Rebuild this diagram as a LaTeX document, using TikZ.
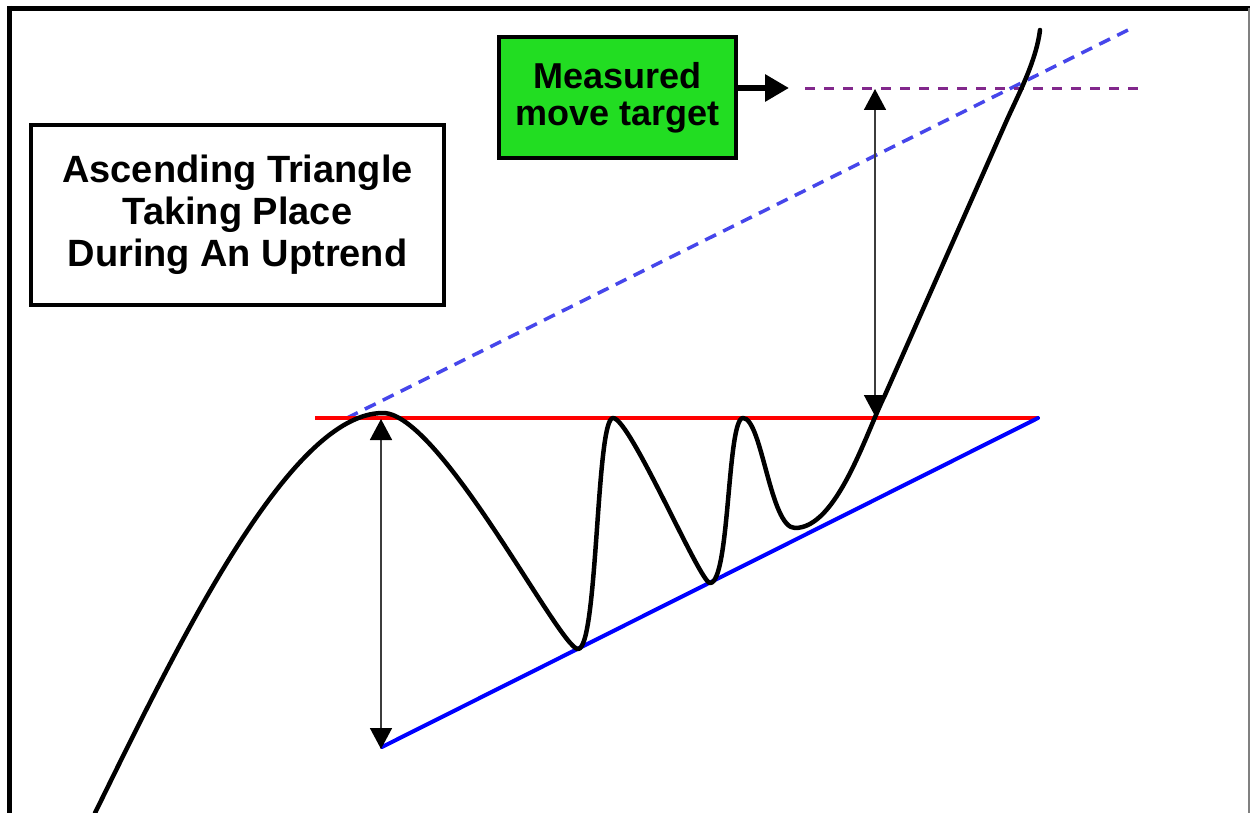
\documentclass[tikz,border=0pt]{standalone}
\usepackage{fontspec}
\setmainfont{Liberation Sans}
\usetikzlibrary{arrows.meta,shadows}
\definecolor{boxgreen}{RGB}{34,221,34}
\definecolor{dashblue}{RGB}{70,70,235}
\definecolor{dashpurple}{RGB}{130,40,140}
\definecolor{arrowgray}{RGB}{60,60,60}
\begin{document}
\begin{tikzpicture}[x=1pt,y=-1pt,
  titlebox/.style={draw=black,line width=4pt,fill=white,inner sep=0pt,align=center,
    minimum width=413pt,minimum height=180pt,
    font=\bfseries\fontsize{38}{42}\selectfont,
    drop shadow={opacity=0.25,shadow xshift=-2pt,shadow yshift=-2pt}},
  targetbox/.style={draw=black,line width=4pt,fill=boxgreen,inner sep=0pt,align=center,
    minimum width=237pt,minimum height=121pt,
    font=\bfseries\fontsize{36}{37}\selectfont,
    drop shadow={opacity=0.25,shadow xshift=2pt,shadow yshift=-2pt}},
  price/.style={line width=4.5pt,line cap=round,line join=round},
  measure/.style={arrowgray,line width=1.6pt,
    {Triangle[width=22pt,length=21pt,color=black]}-{Triangle[width=22pt,length=21pt,color=black]}},
  resist/.style={red,line width=4pt},
  support/.style={blue,line width=4pt,line cap=round},
  trendext/.style={dashblue,line width=3.5pt,dash pattern=on 12pt off 8pt},
  targetline/.style={dashpurple,line width=3pt,dash pattern=on 10pt off 9pt}
]
\useasboundingbox (0,0) rectangle (1250,813);
\fill[white] (0,0) rectangle (1250,813);

% frame
\draw[line width=5pt] (7,8.5) -- (1250,8.5);
\draw[line width=5pt] (9.5,6) -- (9.5,813);
\draw[gray,line width=2pt] (1248.5,8.5) -- (1248.5,813);

% key coordinates
\coordinate (rl) at (315,418);
\coordinate (rr) at (1038,418);
\coordinate (sl) at (382,747);
\coordinate (sr) at (1038,418);
\coordinate (dl) at (347,418);
\coordinate (dr) at (1128,30);
\coordinate (pl) at (805,89);
\coordinate (pr) at (1140,89);
\coordinate (la) at (381,419);
\coordinate (lb) at (381,749);
\coordinate (ra) at (875,89);
\coordinate (rb) at (875,416);
\coordinate (tgt) at (789,88);

% dashed lines
\draw[trendext] (dl) -- (dr);
\draw[targetline] (pl) -- (pr);

% triangle lines
\draw[resist] (rl) -- (rr);
\draw[support] (sl) -- (sr);

% price curve
\draw[price] (95,813)
  .. controls (180,640) and (290,413) .. (383,413)
  .. controls (440,413) and (560,649) .. (578,649)
  .. controls (598,649) and (596,418) .. (613,418)
  .. controls (630,418) and (700,583) .. (710,583)
  .. controls (730,583) and (727,418) .. (743,418)
  .. controls (762,418) and (770,528) .. (795,528)
  .. controls (837,528) and (866,433) .. (885,395)
  -- (1006,122)
  .. controls (1018,95) and (1036,62) .. (1040,30);

% measurement arrows
\draw[measure] (la) -- (lb);
\draw[measure] (ra) -- (rb);

% boxes
\node[titlebox] (title) at (237.5,215) {Ascending Triangle\\Taking Place\\During An Uptrend};
\node[targetbox] (target) at (617.5,97.5) {Measured\\move target};

\draw[line width=6pt,-{Triangle[width=26pt,length=24pt]}] (target.east |- tgt) -- (tgt);
\end{tikzpicture}
\end{document}
